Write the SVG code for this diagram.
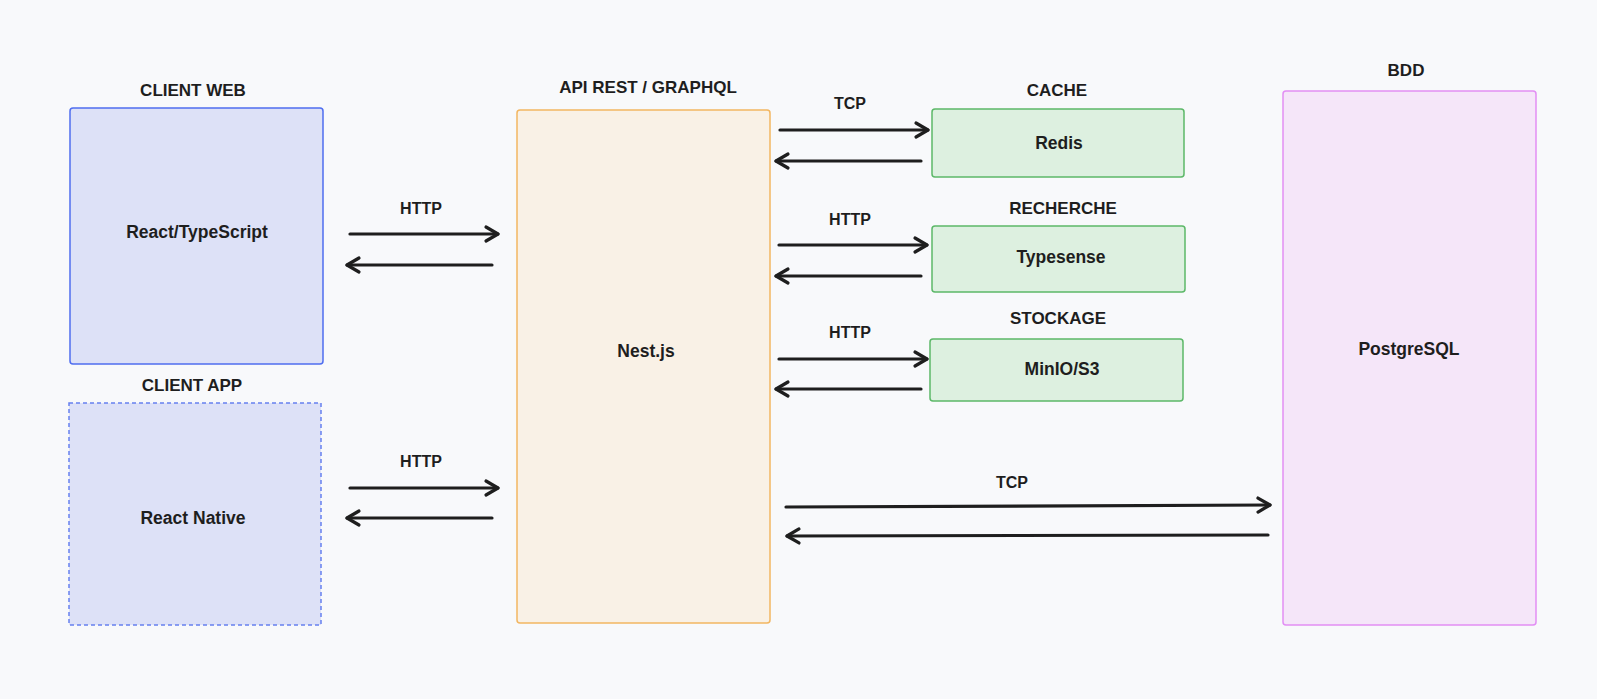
<svg xmlns="http://www.w3.org/2000/svg" width="1597" height="699" viewBox="0 0 1597 699">
  <style>
    .title { font-family: "Liberation Sans", Arial, sans-serif; font-size: 17px; font-weight: bold; fill: #1e1e1e; text-anchor: middle; }
    .body { font-family: "Liberation Sans", Arial, sans-serif; font-size: 17.5px; font-weight: bold; fill: #1e1e1e; text-anchor: middle; }
    .lbl { font-family: "Liberation Sans", Arial, sans-serif; font-size: 16px; font-weight: bold; fill: #1e1e1e; text-anchor: middle; }
    .client { fill: #dde1f7; stroke: #4f6ef0; stroke-width: 1.5; }
    .client-dash { fill: #dde1f7; stroke: #6680f0; stroke-width: 1.5; stroke-dasharray: 4 3; }
    .api { fill: #f9f1e6; stroke: #f2b661; stroke-width: 1.5; }
    .svc { fill: #ddf0e0; stroke: #5cb868; stroke-width: 1.5; }
    .db { fill: #f5e6f9; stroke: #e28ef4; stroke-width: 1.5; }
    .conn { fill: none; stroke: #1e1e1e; stroke-width: 3.2; stroke-linecap: round; marker-end: url(#arr); }
  </style>
  <defs>
    <marker id="arr" viewBox="-15 -10 18 20" refX="0" refY="0" markerWidth="18" markerHeight="20" markerUnits="userSpaceOnUse" orient="auto">
      <path d="M-12,-7 L0,0 L-12,7" fill="none" stroke="#1e1e1e" stroke-width="3.2" stroke-linecap="round" stroke-linejoin="round"/>
    </marker>
  </defs>
  <rect x="0" y="0" width="1597" height="699" fill="#f8f9fb"/>

  <g id="client-web">
    <text class="title" x="193" y="96">CLIENT WEB</text>
    <rect class="client" x="70" y="108" width="253" height="256" rx="3"/>
    <text class="body" x="197" y="238">React/TypeScript</text>
  </g>

  <g id="client-app">
    <text class="title" x="192" y="391">CLIENT APP</text>
    <rect class="client-dash" x="69" y="403" width="252" height="222"/>
    <text class="body" x="193" y="524">React Native</text>
  </g>

  <g id="api">
    <text class="title" x="648" y="93">API REST / GRAPHQL</text>
    <rect class="api" x="517" y="110" width="253" height="513" rx="3"/>
    <text class="body" x="646" y="357">Nest.js</text>
  </g>

  <g id="cache">
    <text class="title" x="1057" y="96">CACHE</text>
    <rect class="svc" x="932" y="109" width="252" height="68" rx="3"/>
    <text class="body" x="1059" y="149">Redis</text>
  </g>

  <g id="recherche">
    <text class="title" x="1063" y="214">RECHERCHE</text>
    <rect class="svc" x="932" y="226" width="253" height="66" rx="3"/>
    <text class="body" x="1061" y="263">Typesense</text>
  </g>

  <g id="stockage">
    <text class="title" x="1058" y="324">STOCKAGE</text>
    <rect class="svc" x="930" y="339" width="253" height="62" rx="3"/>
    <text class="body" x="1062" y="375">MinIO/S3</text>
  </g>

  <g id="bdd">
    <text class="title" x="1406" y="76">BDD</text>
    <rect class="db" x="1283" y="91" width="253" height="534" rx="3"/>
    <text class="body" x="1409" y="355">PostgreSQL</text>
  </g>

  <g id="connectors">
    <text class="lbl" x="421" y="214">HTTP</text>
    <line class="conn" x1="350" y1="234" x2="498" y2="234"/>
    <line class="conn" x1="492" y1="265" x2="347" y2="265"/>

    <text class="lbl" x="421" y="467">HTTP</text>
    <line class="conn" x1="350" y1="488" x2="498" y2="488"/>
    <line class="conn" x1="492" y1="518" x2="347" y2="518"/>

    <text class="lbl" x="850" y="109">TCP</text>
    <line class="conn" x1="780" y1="130" x2="928" y2="130"/>
    <line class="conn" x1="921" y1="161" x2="776" y2="161"/>

    <text class="lbl" x="850" y="225">HTTP</text>
    <line class="conn" x1="779" y1="245" x2="927" y2="245"/>
    <line class="conn" x1="921" y1="276" x2="776" y2="276"/>

    <text class="lbl" x="850" y="338">HTTP</text>
    <line class="conn" x1="779" y1="359" x2="927" y2="359"/>
    <line class="conn" x1="921" y1="389" x2="776" y2="389"/>

    <text class="lbl" x="1012" y="488">TCP</text>
    <line class="conn" x1="786" y1="507" x2="1270" y2="505"/>
    <line class="conn" x1="1268" y1="535" x2="787" y2="536"/>
  </g>
</svg>
